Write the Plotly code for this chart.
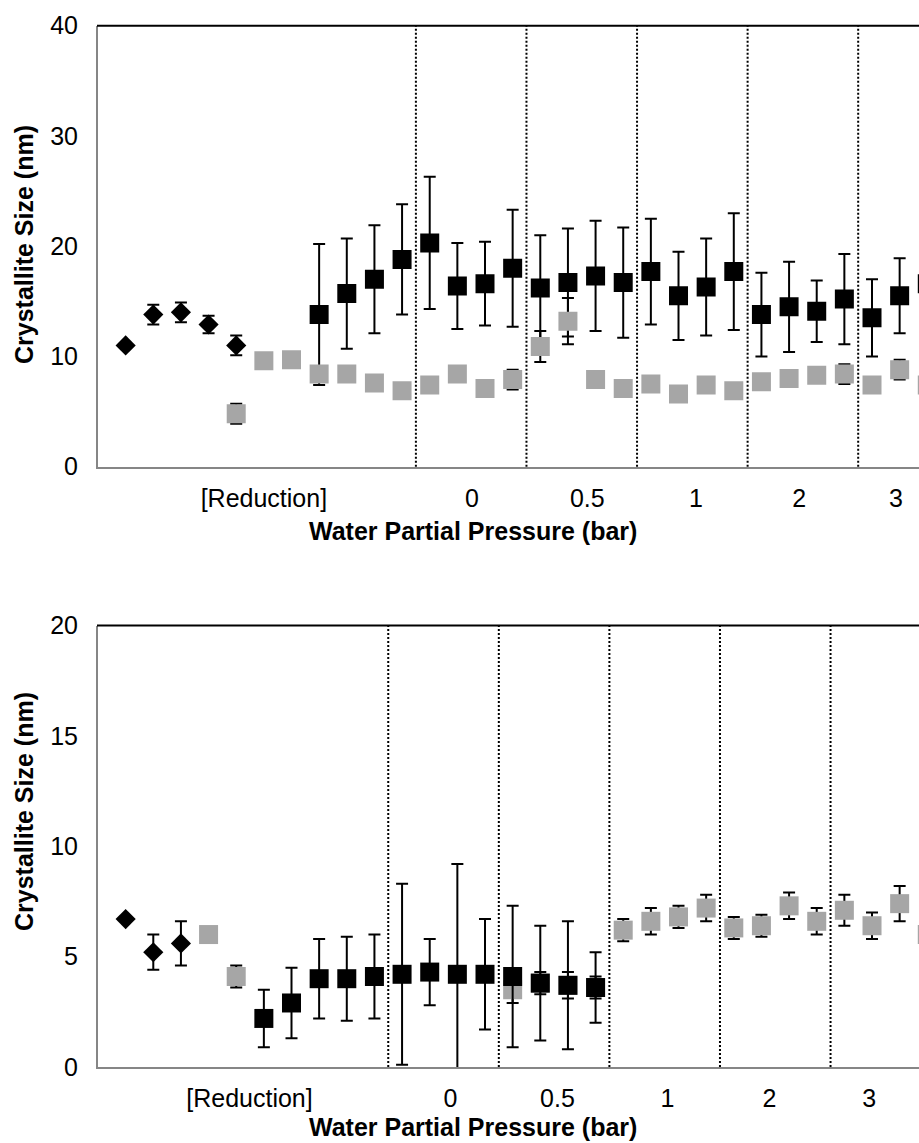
import plotly.graph_objects as go

# ---------------- data ----------------
# index of each measurement along the category axis (0..29)
top_diamond = [11.0, 13.8, 14.0, 12.9, 11.0] + [None] * 25
top_diamond_err = [0.0, 0.9, 0.9, 0.8, 0.9] + [0.0] * 25

top_gray = [None, None, None, None, 4.8, 9.6, 9.7, 8.4, 8.4, 7.6, 6.9,
            7.4, 8.4, 7.1, 7.9, 10.9, 13.2, 7.9, 7.1, 7.5, 6.6, 7.4, 6.9,
            7.7, 8.0, 8.3, 8.4, 7.4, 8.8, 7.4]
top_gray_err = [0, 0, 0, 0, 0.9, 0, 0, 0, 0, 0, 0,
                0, 0, 0, 0.9, 1.4, 2.1, 0, 0, 0, 0, 0, 0,
                0, 0, 0, 0.9, 0, 0.9, 0]

top_black = [None] * 7 + [13.8, 15.7, 17.0, 18.8, 20.3, 16.4, 16.6, 18.0,
                          16.2, 16.7, 17.3, 16.7, 17.7, 15.5, 16.3, 17.7,
                          13.8, 14.5, 14.1, 15.2, 13.5, 15.5, 16.6]
top_black_err = [0] * 7 + [6.4, 5.0, 4.9, 5.0, 6.0, 3.9, 3.8, 5.3,
                           4.8, 4.9, 5.0, 5.0, 4.8, 4.0, 4.4, 5.3,
                           3.8, 4.1, 2.8, 4.1, 3.5, 3.4, 4.0]

bot_diamond = [6.7, 5.2, 5.6] + [None] * 27
bot_diamond_err = [0.0, 0.8, 1.0] + [0.0] * 27

bot_gray = [None, None, None, 6.0, 4.1] + [None] * 9 + [
    3.5, 3.8, 3.7, 3.6, 6.2, 6.6, 6.8, 7.2, 6.3, 6.4, 7.3, 6.6, 7.1, 6.4, 7.4, 6.0]
bot_gray_err = [0, 0, 0, 0, 0.5] + [0] * 9 + [
    0.6, 0.5, 0.6, 0.5, 0.5, 0.6, 0.5, 0.6, 0.5, 0.5, 0.6, 0.6, 0.7, 0.6, 0.8, 0.6]

bot_black = [None] * 5 + [2.2, 2.9, 4.0, 4.0, 4.1, 4.2, 4.3, 4.2, 4.2,
                          4.1, 3.8, 3.7, 3.6] + [None] * 12
bot_black_err = [0] * 5 + [1.3, 1.6, 1.8, 1.9, 1.9, 4.1, 1.5, 5.0, 2.5,
                           3.2, 2.6, 2.9, 1.6] + [0] * 12

group_labels = ["[Reduction]", "0", "0.5", "1", "2", "3"]
top_group_bounds = [10.5, 14.5, 18.5, 22.5, 26.5]
bot_group_bounds = [9.5, 13.5, 17.5, 21.5, 25.5]

# ---------------- layout constants ----------------
W, H = 919, 1143
GRAY = "#A6A6A6"
AXIS_GRAY = "#868686"
FONT = "Liberation Sans, Arial, sans-serif"
X_RANGE = [-1.0, 28.70]
top_tick_pos = [5.0, 12.53, 16.70, 20.63, 24.37, 27.87]
bot_tick_pos = [4.48, 11.75, 15.62, 19.60, 23.29, 26.90]

def py(p):  # pixel y -> paper y
    return 1 - p / H

def px(p):
    return p / W

xs = list(range(30))
fig = go.Figure()

def add_series(y, err, xaxis, yaxis, symbol, color, size):
    fig.add_trace(go.Scatter(
        x=xs, y=y, mode="markers", xaxis=xaxis, yaxis=yaxis,
        marker=dict(symbol=symbol, color=color, size=size, line=dict(width=0)),
        error_y=dict(type="data", array=err, visible=True, color="black",
                     thickness=2, width=6),
        showlegend=False, hoverinfo="skip"))

# top chart: black squares below gray squares
add_series(top_diamond, top_diamond_err, "x", "y", "diamond", "black", 15.5)
add_series(top_black, top_black_err, "x", "y", "square", "black", 19)
add_series(top_gray, top_gray_err, "x", "y", "square", GRAY, 19)
# bottom chart: gray below black
add_series(bot_diamond, bot_diamond_err, "x2", "y2", "diamond", "black", 15.5)
add_series(bot_gray, bot_gray_err, "x2", "y2", "square", GRAY, 19)
add_series(bot_black, bot_black_err, "x2", "y2", "square", "black", 19)

dom_x = [px(98), 1.0]
top_dom = [py(466.7), py(25.7)]
bot_dom = [py(1067), py(625.5)]

tick_font = dict(family=FONT, size=25, color="black")
xcommon = dict(range=X_RANGE, showgrid=False, zeroline=False, showline=True,
               linecolor=AXIS_GRAY, linewidth=2, ticks="", automargin=False,
               tickfont=tick_font, ticklabelstandoff=8, domain=dom_x)
ycommon = dict(showgrid=False, zeroline=False, showline=True,
               linecolor=AXIS_GRAY, linewidth=2, ticks="", automargin=False,
               tickfont=tick_font, ticklabelstandoff=13)

fig.update_layout(
    width=W, height=H, margin=dict(l=0, r=0, t=0, b=0),
    paper_bgcolor="white", plot_bgcolor="white",
    xaxis=dict(**xcommon, anchor="y", tickvals=top_tick_pos, ticktext=group_labels),
    yaxis=dict(**ycommon, anchor="x", domain=top_dom, range=[0, 40],
               tickvals=[0, 10, 20, 30, 40]),
    xaxis2=dict(**xcommon, anchor="y2", tickvals=bot_tick_pos, ticktext=group_labels),
    yaxis2=dict(**ycommon, anchor="x2", domain=bot_dom, range=[0, 20],
                tickvals=[0, 5, 10, 15, 20]),
)

shapes = []
for b in top_group_bounds:
    shapes.append(dict(type="line", xref="x", yref="y domain", x0=b, x1=b, y0=0, y1=1,
                       line=dict(color="black", width=2, dash="2px,2px")))
for b in bot_group_bounds:
    shapes.append(dict(type="line", xref="x2", yref="y2 domain", x0=b, x1=b, y0=0, y1=1,
                       line=dict(color="black", width=2, dash="2px,2px")))
# black top border of each plot area
for d in (top_dom, bot_dom):
    shapes.append(dict(type="line", xref="paper", yref="paper", x0=px(97), x1=1,
                       y0=d[1], y1=d[1], line=dict(color="black", width=2)))
fig.update_layout(shapes=shapes)

title_font = dict(family=FONT, size=25, color="black")
ann = []
for yc in (531, 1127):
    ann.append(dict(text="<b>Water Partial Pressure (bar)</b>", xref="paper", yref="paper",
                    x=px(473), y=py(yc), showarrow=False, font=title_font,
                    xanchor="center", yanchor="middle"))
for yc in (245, 812):
    ann.append(dict(text="<b>Crystallite Size (nm)</b>", xref="paper", yref="paper",
                    x=px(24), y=py(yc), showarrow=False, font=title_font, textangle=-90,
                    xanchor="center", yanchor="middle"))
fig.update_layout(annotations=ann)

fig.write_html("out.html")
